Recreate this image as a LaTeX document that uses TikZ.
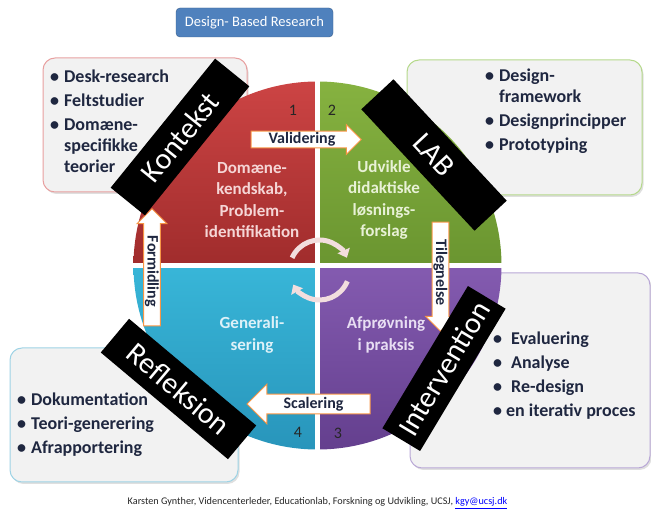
\documentclass[tikz,border=0pt]{standalone}
\usepackage{fontspec}
\setmainfont{Carlito}
\usepackage{tikz}
\usetikzlibrary{shapes, shapes.arrows, arrows.meta, positioning, shadows}

\definecolor{titleBlue}{HTML}{4F81BD}
\definecolor{titleEdge}{HTML}{385D8A}
\definecolor{listInk}{HTML}{1F2740}
\definecolor{boxFill}{HTML}{F2F2F2}
\definecolor{redTop}{HTML}{CC4444}
\definecolor{redBot}{HTML}{A02C2C}
\definecolor{greenTop}{HTML}{86B240}
\definecolor{greenBot}{HTML}{6A9530}
\definecolor{blueTop}{HTML}{38B6D8}
\definecolor{blueBot}{HTML}{2895BB}
\definecolor{purpleTop}{HTML}{845BB0}
\definecolor{purpleBot}{HTML}{643F8E}
\definecolor{redEdge}{HTML}{E8A0A0}
\definecolor{greenEdge}{HTML}{B5D98B}
\definecolor{blueEdge}{HTML}{9ED3E5}
\definecolor{purpleEdge}{HTML}{B9A8D6}
\definecolor{arrowEdge}{HTML}{F79646}
\definecolor{turnInk}{HTML}{F2DEDE}

\begin{document}
\begin{tikzpicture}[
        x=1pt, y=1pt,
        infobox/.style={
            rectangle, rounded corners=12pt, fill=boxFill, line width=1pt,
            drop shadow={opacity=0.25, shadow xshift=1.5pt, shadow yshift=-2pt}
        },
        listtext/.style={
            anchor=west, text=listInk, inner sep=0pt,
            font=\fontsize{18}{21}\selectfont\bfseries
        },
        band/.style={
            rectangle, fill=black, text=white, minimum width=166pt, minimum height=44pt,
            font=\fontsize{30}{30}\selectfont
        },
        quadtext/.style={align=center, font=\fontsize{17}{21.5}\selectfont\bfseries},
        num/.style={text=black!85, font=\fontsize{16}{16}\selectfont},
        blockarrow/.style={
            single arrow, draw=arrowEdge, fill=white, line width=1pt,
            single arrow head extend=6.5pt, inner sep=1pt, text=listInk,
            font=\fontsize{16}{16}\selectfont\bfseries
        },
        turn/.style={line width=5pt, draw=turnInk, -{Triangle[width=13pt,length=8pt]}}
    ]
    \useasboundingbox (0,0) rectangle (651,509);

    % Boxes behind the circle
    \node[infobox, draw=redEdge, minimum width=204pt, minimum height=134pt] (ctxbox) at (145,384) {};
    \node[infobox, draw=greenEdge, minimum width=235pt, minimum height=135pt] (labbox) at (524.5,381.5) {};
    \node[infobox, draw=blueEdge, minimum width=228pt, minimum height=134pt] (reflbox) at (124,94) {};
    \node[infobox, draw=purpleEdge, minimum width=240pt, minimum height=195pt] (intbox) at (530,138.5) {};

    \node[listtext] (ctxlist) at (50,386) {\begin{tabular}{@{}l@{\hspace{5pt}}l@{}}
        \textbullet & Desk-research\\[3pt]
        \textbullet & Feltstudier\\[3pt]
        \textbullet & Domæne-\\ & specifikke\\ & teorier
    \end{tabular}};
    \node[listtext] (lablist) at (485,397.5) {\begin{tabular}{@{}l@{\hspace{5pt}}l@{}}
        \textbullet & Design-\\ & framework\\[3pt]
        \textbullet & Designprincipper\\[3pt]
        \textbullet & Prototyping
    \end{tabular}};
    \node[listtext] (refllist) at (17,84) {\begin{tabular}{@{}l@{\hspace{5pt}}l@{}}
        \textbullet & Dokumentation\\[3pt]
        \textbullet & Teori-generering\\[3pt]
        \textbullet & Afrapportering
    \end{tabular}};
    \node[listtext] (intlist) at (493,133) {\begin{tabular}{@{}l@{\hspace{9pt}}l@{}}
        \textbullet & Evaluering\\[3pt]
        \textbullet & Analyse\\[3pt]
        \textbullet & Re-design\\[3pt]
        \textbullet & \hspace{-5pt}en iterativ proces
    \end{tabular}};

    % Quadrants
    \coordinate (c) at (317.5,243.5);
    \path[top color=redTop, bottom color=redBot] (c) -- ++(-184,0) arc[start angle=180, end angle=90, radius=184pt] -- cycle;
    \path[top color=greenTop, bottom color=greenBot] (c) -- ++(0,184) arc[start angle=90, end angle=0, radius=184pt] -- cycle;
    \path[top color=purpleTop, bottom color=purpleBot] (c) -- ++(184,0) arc[start angle=0, end angle=-90, radius=184pt] -- cycle;
    \path[top color=blueTop, bottom color=blueBot] (c) -- ++(0,-184) arc[start angle=-90, end angle=-180, radius=184pt] -- cycle;
    \draw[white, line width=4.5pt] (c) ++(0,-187) -- ++(0,374) (c) ++(-187,0) -- ++(374,0);

    \node[quadtext, text={rgb,255:red,245;green,214;blue,214}] (q1) at (252,309) {Domæne-\\kendskab,\\Problem-\\identifikation};
    \node[quadtext, text={rgb,255:red,232;green,241;blue,214}] (q2) at (384,309) {Udvikle\\didaktiske\\løsnings-\\forslag};
    \node[quadtext, text={rgb,255:red,232;green,222;blue,243}] (q3) at (386,174) {Afprøvning\\i praksis};
    \node[quadtext, text={rgb,255:red,221;green,241;blue,248}] (q4) at (252,174) {Generali-\\sering};

    \node[num] (n1) at (293,399) {1};
    \node[num] (n2) at (332,399) {2};
    \node[num] (n3) at (338,76) {3};
    \node[num] (n4) at (298,77) {4};

    % Turning arrows
    \draw[turn] (319.5,239) ++(156:30) arc[start angle=156, end angle=24, radius=30pt];
    \draw[turn] (319.5,239) ++(-22:30) arc[start angle=-22, end angle=-151, radius=30pt];

    % Flow arrows
    \node[blockarrow, minimum height=110pt] (valid) at (302,369.5) {Validering};
    \node[blockarrow, minimum height=109pt, rotate=-90] (tileg) at (440.5,236.5) {Tilegnelse};
    \node[blockarrow, minimum height=123pt, shape border rotate=180,
          single arrow head extend=10pt, inner ysep=2.5pt] (scal) at (313.5,105) {Scalering};
    \node[blockarrow, minimum height=117pt, rotate=-90, shape border rotate=180] (formid) at (152,237.5) {Formidling};

    % Bands
    \node[band, rotate=51] (kontekst) at (180,372) {Kontekst};
    \node[band, rotate=-47] (lab) at (434,354) {LAB};
    \node[band, rotate=-40] (refl) at (178.5,120) {Refleksion};
    \node[band, rotate=59] (interv) at (444,140.5) {Intervention};

    % Title and credit
    \node[rectangle, rounded corners=4pt, fill=titleBlue, draw=titleEdge, text=white,
          minimum width=157pt, minimum height=29pt, font=\fontsize{14.5}{14.5}\selectfont] (title) at (254.5,486.5) {Design- Based Research};
    \node[font=\fontsize{10.2}{11}\selectfont, text=black!85, inner sep=0pt] (credit) at (317.5,6)
        {Karsten Gynther, Videncenterleder, Educationlab, Forskning og Udvikling, UCSJ, \textcolor{blue}{\underline{kgy@ucsj.dk}}};
\end{tikzpicture}
\end{document}
